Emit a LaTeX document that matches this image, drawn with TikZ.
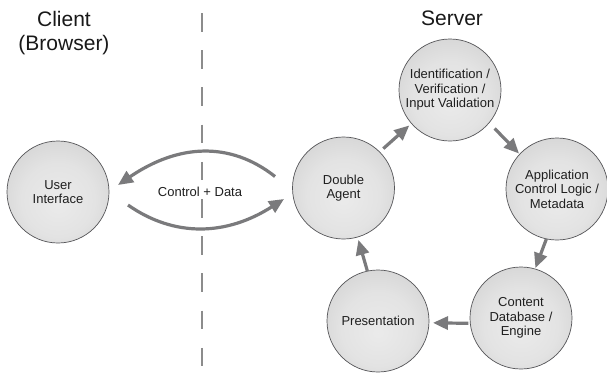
\documentclass[tikz,border=0pt]{standalone}
\usepackage{fontspec}
\setmainfont{Liberation Sans}
\usetikzlibrary{arrows.meta}

% soft spherical fill for the process circles
\pgfdeclareradialshading{ballshade}{\pgfpoint{0bp}{-6bp}}{%
  color(0bp)=(black!8); color(18bp)=(black!11); color(52bp)=(black!26)}

\definecolor{flowgray}{RGB}{122,122,124}
\definecolor{rimgray}{RGB}{85,85,88}

\tikzset{
  stage/.style={circle, minimum size=102pt, inner sep=0pt, outer sep=0pt,
    draw=rimgray, line width=0.7pt, shading=ballshade, align=center,
    font=\fontsize{13}{14.5}\selectfont, text=black!88},
  title/.style={font=\fontsize{21}{24}\selectfont, text=black!90, inner sep=0pt},
  flow/.style={draw=flowgray, line width=3.2pt,
    -{Triangle[length=15pt,width=13pt]}},
  divider/.style={draw=black!45, line width=1.8pt, dash pattern=on 18.5pt off 18.7pt},
}

\begin{document}
\begin{tikzpicture}[x=1pt, y=-1pt]
  \path[use as bounding box, fill=white] (0,0) rectangle (607,373);

  % client / server divider
  \coordinate (divtop) at (202,13);
  \coordinate (divbot) at (202,369);
  \draw[divider] (divtop) -- (divbot);

  % headings
  \node[title, anchor=base] (client) at (64,26) {Client};
  \node[title, anchor=base] (browser) at (64,50) {(Browser)};
  \node[title, anchor=base] (server) at (452,25) {Server};

  % stages
  \node[stage] (ui)   at (58,192)    {User\\Interface};
  \node[stage] (da)   at (343.5,188) {Double\\Agent};
  \node[stage] (id)   at (450,90)    {Identification /\\Verification /\\Input Validation};
  \node[stage] (app)  at (557,189)   {Application\\Control Logic /\\Metadata};
  \node[stage] (cont) at (521,318)   {Content\\Database /\\Engine};
  \node[stage] (pres) at (378,321)   {Presentation};

  % exchange between browser and server
  \coordinate (topstart) at (275,176.5);
  \coordinate (topend)   at (118,185);
  \coordinate (botstart) at (128,205);
  \coordinate (botend)   at (284,199);
  \draw[flow] (topstart) .. controls (230,141) and (178,144) .. (topend);
  \draw[flow] (botstart) .. controls (174.7,237.7) and (226.7,235.7) .. (botend);
  \node[font=\fontsize{13}{14.5}\selectfont, text=black!88] (cd) at (200,192) {Control + Data};

  % server-side cycle
  \draw[flow, shorten >=3pt, shorten <=5pt] (da.45)    -- (id.221);
  \draw[flow, shorten >=1pt, shorten <=8pt] (id.-40)   -- (app.137);
  \draw[flow, shorten >=1pt]                (app.258)  -- (cont.74);
  \draw[flow, shorten >=4pt, shorten <=2pt] (cont.186) -- (pres.-2);
  \draw[flow, shorten >=3pt]                (pres.102) -- (da.-74.5);
\end{tikzpicture}
\end{document}
